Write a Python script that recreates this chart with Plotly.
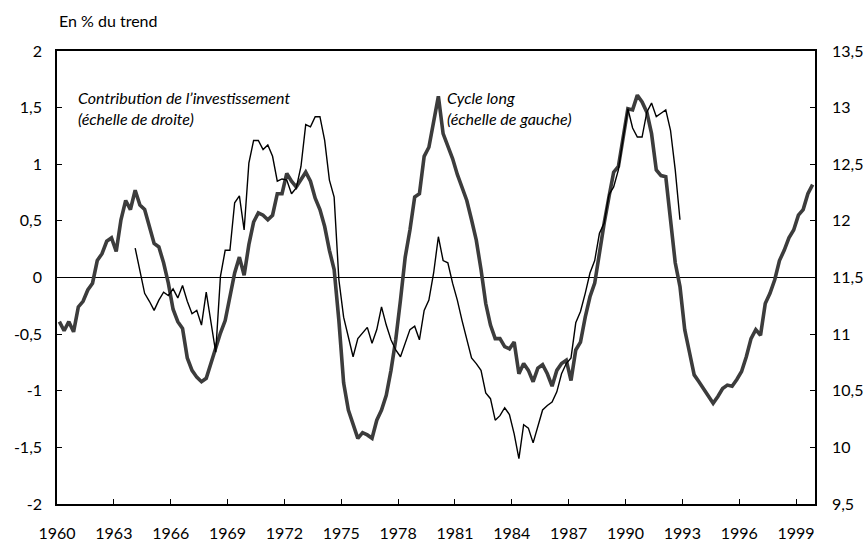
import plotly.graph_objects as go

# Cycle long, en % du trend (echelle de gauche), trimestriel 1960T1-1999T4
cycle_long = [
    -0.39, -0.47, -0.39, -0.48,   # 1960
    -0.26, -0.21, -0.11, -0.05,   # 1961
    0.15, 0.21, 0.32, 0.35,       # 1962
    0.23, 0.51, 0.68, 0.60,       # 1963
    0.77, 0.64, 0.60, 0.45,       # 1964
    0.30, 0.27, 0.13, -0.05,      # 1965
    -0.28, -0.39, -0.45, -0.71,   # 1966
    -0.82, -0.88, -0.92, -0.89,   # 1967
    -0.76, -0.61, -0.49, -0.38,   # 1968
    -0.17, 0.04, 0.18, 0.02,      # 1969
    0.29, 0.49, 0.57, 0.55,       # 1970
    0.51, 0.55, 0.74, 0.74,       # 1971
    0.92, 0.85, 0.80, 0.86,       # 1972
    0.93, 0.85, 0.70, 0.60,       # 1973
    0.45, 0.24, 0.07, -0.38,      # 1974
    -0.93, -1.17, -1.29, -1.42,   # 1975
    -1.37, -1.39, -1.42, -1.26,   # 1976
    -1.17, -1.04, -0.82, -0.55,   # 1977
    -0.20, 0.18, 0.42, 0.71,      # 1978
    0.74, 1.07, 1.15, 1.39,       # 1979
    1.60, 1.27, 1.17, 1.05,       # 1980
    0.91, 0.79, 0.68, 0.51,       # 1981
    0.33, 0.07, -0.23, -0.42,     # 1982
    -0.54, -0.54, -0.61, -0.63,   # 1983
    -0.57, -0.85, -0.76, -0.82,   # 1984
    -0.92, -0.80, -0.77, -0.85,   # 1985
    -0.96, -0.82, -0.76, -0.73,   # 1986
    -0.91, -0.64, -0.57, -0.35,   # 1987
    -0.17, -0.05, 0.24, 0.48,     # 1988
    0.71, 0.93, 0.98, 1.24,       # 1989
    1.49, 1.48, 1.61, 1.55,       # 1990
    1.46, 1.27, 0.95, 0.90,       # 1991
    0.89, 0.51, 0.13, -0.08,      # 1992
    -0.46, -0.66, -0.86, -0.92,   # 1993
    -0.98, -1.05, -1.11, -1.05,   # 1994
    -0.98, -0.95, -0.96, -0.90,   # 1995
    -0.83, -0.70, -0.54, -0.46,   # 1996
    -0.51, -0.23, -0.14, -0.02,   # 1997
    0.15, 0.24, 0.35, 0.42,       # 1998
    0.55, 0.60, 0.74, 0.82,       # 1999
]

# Contribution de l'investissement (echelle de droite), 1964T1-1992T4
contrib_start_year = 1964
contribution = [
    11.76, 11.57, 11.36, 11.29,   # 1964
    11.21, 11.30, 11.37, 11.34,   # 1965
    11.40, 11.32, 11.43, 11.29,   # 1966
    11.18, 11.21, 11.08, 11.37,   # 1967
    11.12, 10.84, 11.51, 11.74,   # 1968
    11.74, 12.16, 12.22, 11.92,   # 1969
    12.51, 12.71, 12.71, 12.63,   # 1970
    12.67, 12.57, 12.35, 12.37,   # 1971
    12.36, 12.24, 12.29, 12.48,   # 1972
    12.85, 12.83, 12.92, 12.92,   # 1973
    12.71, 12.36, 12.21, 11.48,   # 1974
    11.15, 10.98, 10.80, 10.96,   # 1975
    11.01, 11.06, 10.92, 11.04,   # 1976
    11.24, 11.08, 10.95, 10.86,   # 1977
    10.80, 10.92, 11.04, 11.07,   # 1978
    10.95, 11.21, 11.30, 11.54,   # 1979
    11.86, 11.65, 11.63, 11.45,   # 1980
    11.30, 11.12, 10.95, 10.79,   # 1981
    10.74, 10.68, 10.48, 10.43,   # 1982
    10.24, 10.28, 10.35, 10.29,   # 1983
    10.12, 9.90, 10.20, 10.17,    # 1984
    10.04, 10.18, 10.33, 10.37,   # 1985
    10.40, 10.49, 10.65, 10.74,   # 1986
    10.79, 11.10, 11.20, 11.36,   # 1987
    11.54, 11.65, 11.89, 11.98,   # 1988
    12.23, 12.30, 12.45, 12.73,   # 1989
    12.99, 12.82, 12.74, 12.74,   # 1990
    12.96, 13.04, 12.92, 12.95,   # 1991
    12.98, 12.80, 12.45, 12.01,   # 1992
]

x_tick_years = list(range(1960, 2000, 3))
x_tick_labels = [str(y) for y in x_tick_years]
left_ticks = [-2, -1.5, -1, -0.5, 0, 0.5, 1, 1.5, 2]
left_labels = ["-2", "-1,5", "-1", "-0,5", "0", "0,5", "1", "1,5", "2"]
right_ticks = [9.5, 10, 10.5, 11, 11.5, 12, 12.5, 13, 13.5]
right_labels = ["9,5", "10", "10,5", "11", "11,5", "12", "12,5", "13", "13,5"]

# un point au milieu de chaque trimestre
x_cycle = [1960 + (i + 0.5) / 4 for i in range(len(cycle_long))]
x_contrib = [contrib_start_year + (i + 0.5) / 4 for i in range(len(contribution))]

FONT = "Lato, 'Open Sans', sans-serif"
FS = 16

fig = go.Figure()

fig.add_trace(go.Scatter(
    x=x_contrib, y=contribution, yaxis="y2", mode="lines",
    line=dict(color="black", width=1.4),
    name="Contribution de l'investissement", showlegend=False,
))
fig.add_trace(go.Scatter(
    x=x_cycle, y=cycle_long, mode="lines",
    line=dict(color="#3c3c3c", width=3.6),
    name="Cycle long", showlegend=False,
))

axis_common = dict(
    showgrid=False, ticks="inside", ticklen=5, tickwidth=1.2,
    tickcolor="black", linecolor="black", linewidth=1.5, automargin=False,
    tickfont=dict(family=FONT, size=FS, color="black"),
)

fig.update_layout(
    width=868, height=543,
    margin=dict(l=57, r=53, t=51, b=39, autoexpand=False),
    plot_bgcolor="white", paper_bgcolor="white",
    font=dict(family=FONT, size=FS, color="black"),
    xaxis=dict(
        range=[1960, 2000], tickvals=x_tick_years, ticktext=x_tick_labels,
        showline=True, mirror=True, zeroline=False, ticklabelstandoff=14,
        **axis_common,
    ),
    yaxis=dict(
        range=[-2, 2], tickvals=left_ticks, ticktext=left_labels,
        showline=True, mirror=True, zeroline=True, zerolinecolor="black",
        zerolinewidth=1, ticklabelstandoff=10,
        **axis_common,
    ),
    yaxis2=dict(
        range=[9.5, 13.5], tickvals=right_ticks, ticktext=right_labels,
        overlaying="y", side="right", showline=True, zeroline=False,
        ticklabelstandoff=12,
        **axis_common,
    ),
)

fig.add_annotation(
    text="En % du trend", xref="paper", yref="paper", x=0, y=1.068,
    xanchor="left", yanchor="middle", showarrow=False,
    font=dict(family=FONT, size=FS, color="black"),
)
fig.add_annotation(
    text="<i>Contribution de l’investissement<br>(échelle de droite)</i>",
    xref="x", yref="y", x=1961.0, y=1.5, xanchor="left", yanchor="middle",
    align="left", showarrow=False,
    font=dict(family=FONT, size=FS, color="black"),
)
fig.add_annotation(
    text="<i>Cycle long<br>(échelle de gauche)</i>",
    xref="x", yref="y", x=1980.45, y=1.5, xanchor="left", yanchor="middle",
    align="left", showarrow=False,
    font=dict(family=FONT, size=FS, color="black"),
)

# la page a une marge de 8 px par defaut : on la supprime
fig.write_html(
    "out.html",
    config={"displayModeBar": False},
    post_script="document.body.style.margin='0';",
)
